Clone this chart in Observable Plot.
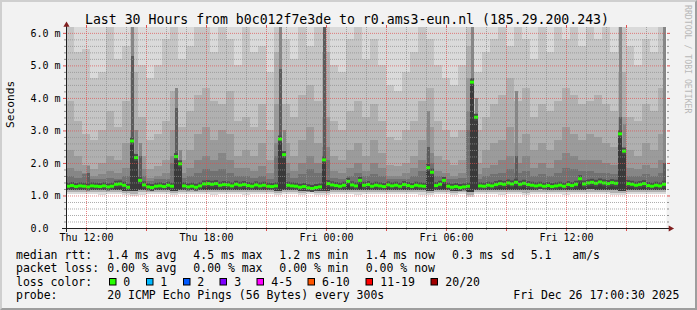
<!DOCTYPE html>
<html><head><meta charset="utf-8">
<script src="https://cdn.jsdelivr.net/npm/d3@7"></script>
<script src="https://cdn.jsdelivr.net/npm/@observablehq/plot@0.6"></script>
<style>
html,body{margin:0;padding:0;background:#f2f2f2;}
#wrap{position:relative;width:697px;height:310px;background:#f2f2f2;overflow:hidden;}
#wrap svg{position:absolute;left:0;top:0;}
#shade{position:absolute;left:0;top:0;width:697px;height:310px;box-sizing:border-box;border-style:solid;border-width:2px;border-color:#cfcfcf #9e9e9e #9e9e9e #cfcfcf;pointer-events:none;}
</style></head><body><div id="wrap"></div>
<script>
// ---------- data ----------
const titleText = "Last 30 Hours from b0c012f7e3de to r0.ams3-eun.nl (185.29.200.243)";
const yLabel = "Seconds";
const watermark = "RRDTOOL / TOBI OETIKER";
const yTickValues = [0, 1, 2, 3, 4, 5, 6];
const yTickLabels = ["0.0\u00a0\u00a0", "1.0 m", "2.0 m", "3.0 m", "4.0 m", "5.0 m", "6.0 m"];
const xTickMinutes = [60, 420, 780, 1140, 1500];
const xTickLabels = ["Thu 12:00", "Thu 18:00", "Fri 00:00", "Fri 06:00", "Fri 12:00"];

// median rtt in ms, one value per 12 minutes (150 values)
const median = [
  1.30,1.32,1.29,1.31,1.30,1.28,1.31,1.30,1.29,1.31,1.28,1.30,1.36,1.37,1.33,
  1.27,2.69,2.18,1.48,1.34,1.28,1.26,1.30,1.31,1.29,1.33,1.30,2.21,1.99,1.31,
  1.28,1.30,1.27,1.31,1.37,1.38,1.36,1.38,1.33,1.35,1.34,1.31,1.36,1.33,1.35,
  1.32,1.30,1.34,1.31,1.33,1.30,1.29,1.31,2.75,2.27,1.33,1.31,1.30,1.27,1.29,
  1.25,1.23,1.26,1.28,2.11,1.38,1.34,1.32,1.30,1.33,1.45,1.34,1.31,1.48,1.33,
  1.35,1.30,1.33,1.31,1.29,1.34,1.31,1.33,1.30,1.35,1.32,1.29,1.33,1.31,1.30,
  1.87,1.73,1.32,1.36,1.48,1.30,1.27,1.29,1.26,1.28,1.30,4.50,3.42,1.31,1.30,
  1.33,1.31,1.35,1.38,1.36,1.40,1.37,1.42,1.36,1.39,1.35,1.33,1.31,1.33,1.30,
  1.32,1.29,1.31,1.33,1.30,1.35,1.32,1.36,1.53,1.37,1.40,1.42,1.39,1.43,1.40,
  1.38,1.41,1.39,2.91,2.38,1.38,1.36,1.33,1.35,1.38,1.32,1.30,1.33,1.31,1.36
];

// smoke band edges in ms, one value per 24 minutes (75 values each)
const lo1 = [
  1.05,1.04,1.06,1.05,1.03,1.06,1.04,1.02,0.98,1.03,1.06,1.05,1.04,1.00,1.05,
  1.06,1.04,1.05,1.03,1.05,1.04,1.06,1.03,1.05,1.04,1.06,1.00,1.04,1.05,1.03,
  1.05,1.02,1.00,1.04,1.06,1.05,1.03,1.06,1.05,1.04,1.06,1.05,1.04,1.06,1.03,
  1.00,1.04,1.05,1.03,1.04,0.95,1.04,1.06,1.05,1.03,1.05,1.04,1.02,1.05,1.06,
  1.04,1.05,1.03,1.05,1.04,1.06,1.05,1.04,1.03,1.00,1.05,1.04,1.06,1.05,1.04
];
const lo2 = [
  1.11,1.10,1.12,1.11,1.10,1.12,1.11,1.09,1.06,1.10,1.12,1.11,1.10,1.07,1.11,
  1.12,1.10,1.11,1.10,1.11,1.10,1.12,1.10,1.11,1.10,1.12,1.07,1.10,1.11,1.09,
  1.11,1.09,1.07,1.10,1.12,1.11,1.10,1.12,1.11,1.10,1.12,1.11,1.10,1.12,1.10,
  1.07,1.10,1.11,1.09,1.10,1.03,1.10,1.12,1.11,1.10,1.11,1.10,1.09,1.11,1.12,
  1.10,1.11,1.10,1.11,1.10,1.12,1.11,1.10,1.09,1.07,1.11,1.10,1.12,1.11,1.10
];
const lo3 = [
  1.17,1.16,1.18,1.17,1.16,1.18,1.17,1.15,1.13,1.16,1.18,1.17,1.16,1.14,1.17,
  1.18,1.17,1.18,1.16,1.17,1.16,1.18,1.16,1.17,1.16,1.18,1.14,1.16,1.17,1.15,
  1.17,1.15,1.13,1.16,1.18,1.17,1.16,1.18,1.17,1.16,1.18,1.17,1.16,1.18,1.16,
  1.14,1.16,1.17,1.15,1.16,1.10,1.16,1.18,1.17,1.16,1.17,1.17,1.16,1.18,1.19,
  1.17,1.18,1.17,1.18,1.17,1.19,1.18,1.17,1.16,1.14,1.17,1.16,1.18,1.17,1.16
];
const u1 = [
  6.2,6.2,6.2,6.2,6.2,6.2,6.2,6.2,6.2,6.2,6.2,6.2,6.2,6.2,6.2,
  6.2,6.2,6.2,6.2,6.2,6.2,6.2,6.2,6.2,6.2,6.2,6.2,6.2,6.2,6.2,
  6.2,6.2,6.2,6.2,6.2,6.2,6.2,6.2,6.2,6.2,6.2,6.2,6.2,6.2,6.2,
  6.2,6.2,6.2,6.2,6.2,6.2,6.2,6.2,6.2,6.2,6.2,6.2,6.2,6.2,6.2,
  6.2,6.2,6.2,6.2,6.2,6.2,6.2,6.2,6.2,6.2,6.2,6.2,6.2,6.2,6.2
];
const u2 = [
  6.2,5.4,5.5,4.6,4.8,6.2,5.2,5.6,6.2,5.0,4.6,5.0,5.8,6.2,5.2,
  5.6,6.2,6.2,5.4,6.2,5.8,5.0,6.2,5.4,5.6,4.8,6.2,5.8,5.2,6.2,
  5.6,6.2,6.2,5.0,4.8,5.8,6.2,5.2,5.8,5.0,4.4,4.2,4.8,5.4,6.2,
  5.8,5.0,4.6,4.4,5.0,6.2,4.8,5.4,5.8,6.2,5.6,6.2,5.8,5.2,6.2,
  5.4,6.2,5.8,6.2,5.6,6.2,5.8,6.2,5.4,6.2,5.6,5.0,5.8,5.4,6.2
];
const u3 = [
  3.9,3.3,2.9,2.7,3.0,3.6,3.1,3.9,4.8,3.4,2.7,2.9,3.3,4.2,3.1,
  3.6,4.1,4.3,3.9,3.8,4.2,3.3,3.4,3.1,3.8,3.0,5.4,3.8,3.4,4.1,
  4.4,3.9,5.4,3.3,3.0,3.6,3.9,3.4,3.8,3.3,2.8,2.7,3.0,3.3,3.9,
  4.3,3.3,3.0,2.8,3.0,5.6,3.0,3.4,3.8,4.1,4.6,3.9,4.3,3.4,3.8,
  3.6,3.9,4.3,4.1,3.8,3.9,4.1,3.8,3.6,4.8,3.4,3.3,3.8,3.6,4.3
];
const u4 = [
  2.4,2.2,1.95,1.8,2.0,2.2,2.1,2.6,3.0,2.2,1.8,1.9,2.1,3.0,2.1,
  2.4,2.9,3.1,2.7,3.0,2.9,2.2,2.4,2.2,2.6,2.1,3.8,2.6,2.2,2.7,
  3.1,2.6,3.4,2.2,2.1,2.4,2.6,2.2,2.7,2.3,1.95,1.9,2.0,2.2,2.7,
  3.1,2.2,2.1,1.95,2.1,4.6,2.0,2.4,2.6,2.7,3.1,2.6,2.9,2.4,2.6,
  2.4,2.7,3.1,2.9,2.7,2.9,2.8,2.6,2.5,3.4,2.4,2.2,2.6,2.4,2.9
];
const u5 = [
  1.85,1.75,1.7,1.6,1.65,1.75,1.7,1.85,2.3,1.8,1.55,1.6,1.7,2.2,1.7,
  1.85,2.1,2.2,2.1,2.3,2.1,1.85,1.85,1.75,1.9,1.7,2.6,2.0,1.75,2.0,
  2.2,2.0,2.5,1.75,1.7,1.85,2.0,1.75,2.0,1.85,1.6,1.6,1.7,1.85,2.1,
  2.3,1.75,1.7,1.6,1.7,3.6,1.65,1.85,1.95,2.1,2.2,2.0,2.2,1.85,2.0,
  1.85,2.1,2.3,2.2,2.1,2.1,2.1,2.0,1.95,2.5,1.85,1.8,1.95,1.85,2.1
];
const u6 = [
  1.6,1.55,1.65,1.5,1.5,1.55,1.5,1.6,2.0,1.6,1.45,1.5,1.5,2.0,1.55,
  1.6,1.7,1.8,1.75,1.8,1.7,1.6,1.6,1.55,1.6,1.5,2.2,1.7,1.55,1.65,
  1.8,1.7,2.1,1.55,1.5,1.6,1.7,1.6,1.65,1.6,1.5,1.5,1.5,1.6,1.75,
  2.0,1.6,1.5,1.5,1.55,3.0,1.5,1.6,1.65,1.7,1.8,1.7,1.75,1.6,1.65,
  1.6,1.7,1.85,1.8,1.75,1.75,1.7,1.7,1.65,2.2,1.6,1.6,1.65,1.6,1.7
];
// narrow dark smoke streaks (12-minute slot index, tops in ms)
const streakSlot = [5, 16, 17, 18, 27, 28, 53, 54, 64, 90, 101, 102, 112, 138, 139, 149];
const streakMid  = [1.9, 6.2, 3.0, 2.6, 4.3, 2.4, 6.2, 3.0, 6.2, 3.6, 6.2, 4.0, 4.2, 6.2, 3.2, 6.2];
const streakDark = [1.7, 5.3, 2.2, 2.2, 3.7, 2.0, 4.9, 2.3, 6.2, 2.5, 4.6, 3.0, 2.2, 3.4, 2.4, 2.0];

// legend
const statRtt = ["median rtt:", "1.4 ms avg", "4.5 ms max", "1.2 ms min", "1.4 ms now", "0.3 ms sd", "5.1", "am/s"];
const statLoss = ["packet loss:", "0.00 % avg", "0.00 % max", "0.00 % min", "0.00 % now"];
const lossTitle = "loss color:";
const lossLabels = ["0", "1", "2", "3", "4-5", "6-10", "11-19", "20/20"];
const lossColors = ["#26ff00", "#00b8ff", "#0059ff", "#7e00ff", "#ff00ff", "#ff5500", "#ff0000", "#a10000"];
const probeRow = ["probe:", "20 ICMP Echo Pings (56 Bytes) every 300s", "Fri Dec 26 17:00:30 2025"];

// ---------- build ----------
const START = Date.UTC(2025, 11, 25, 11, 0, 0);
const T = m => new Date(START + m * 60000);

const smokeRows = lo1.map((_, j) => ({x1: T(24 * j), x2: T(24 * j + 24),
  lo1: lo1[j], lo2: lo2[j], lo3: lo3[j], u1: u1[j], u2: u2[j], u3: u3[j], u4: u4[j], u5: u5[j], u6: u6[j]}));
const medRows = median.map((v, i) => ({x1: T(12 * i), x2: T(12 * i + 12), med: v, lo: lo3[Math.floor(i / 2)]}));
const streakRows = streakSlot.map((s, k) => ({x1: T(12 * s), x2: T(12 * s + 12), lo: lo3[Math.floor(s / 2)], mid: streakMid[k], dark: streakDark[k]}));

const hourIdx = d3.range(1, 30);
const majorX = hourIdx.filter(h => h % 3 === 1).map(h => T(60 * h));
const minorX = hourIdx.filter(h => h % 3 !== 1).map(h => T(60 * h));
const majorY = [1, 2, 3, 4, 5, 6];
const minorY = d3.range(1, 31).filter(k => k % 5 !== 0).map(k => k / 5);
const xLabelDates = xTickMinutes.map(m => T(m));

const crisp = {shapeRendering: "crispEdges", clip: true};
const band = (y1, y2, fill) => Plot.rect(smokeRows, {x1: "x1", x2: "x2", y1, y2, fill, ...crisp});
const GRID = "#8f8f8f", MGRID = "#de4f4f";

const chart = Plot.plot({
  width: 697, height: 310,
  marginLeft: 66, marginRight: 31, marginTop: 27, marginBottom: 82,
  style: {background: "none", fontFamily: "'DejaVu Sans Mono', monospace", fontSize: "10px", color: "#000"},
  x: {type: "utc", domain: [T(0), T(1800)], axis: null},
  y: {domain: [0, 6.18], axis: null},
  marks: [
    Plot.frame({fill: "white", stroke: null}),
    band("lo1", "u1", "#dadada"),
    band("lo2", "u2", "#c5c5c5"),
    band("lo2", "u3", "#b0b0b0"),
    band("lo3", "u4", "#9b9b9b"),
    band("lo3", "u5", "#868686"),
    band("lo3", "u6", "#717171"),
    Plot.rect(streakRows, {x1: "x1", x2: "x2", y1: "lo", y2: "mid", fill: "#868686", insetLeft: 1, ...crisp}),
    Plot.rect(streakRows, {x1: "x1", x2: "x2", y1: "lo", y2: "dark", fill: "#5c5c5c", insetLeft: 1, ...crisp}),
    Plot.rect(medRows, {x1: "x1", x2: "x2", y1: "lo", y2: "med", fill: "#3a3a3a", ...crisp}),
    Plot.ruleY(medRows, {x1: "x1", x2: "x2", y: "med", stroke: "#4a4a4a", strokeWidth: 7, clip: true}),
    Plot.ruleY(medRows, {x1: "x1", x2: "x2", y: "med", stroke: "#26ff00", strokeWidth: 3, clip: true}),
    // grid (dotted, drawn above the smoke as rrdtool does)
    Plot.ruleX(minorX, {stroke: GRID, strokeOpacity: 0.75, strokeDasharray: "1,1"}),
    Plot.ruleY(minorY, {stroke: GRID, strokeOpacity: 0.75, strokeDasharray: "1,1"}),
    Plot.ruleX(majorX, {stroke: MGRID, strokeOpacity: 0.7, strokeDasharray: "1,1"}),
    Plot.ruleY(majorY, {stroke: MGRID, strokeOpacity: 0.7, strokeDasharray: "1,1"}),
    // ticks
    Plot.axisY(minorY, {anchor: "left", tickSize: 2, stroke: GRID, tickFormat: () => ""}),
    Plot.axisY(minorY, {anchor: "right", tickSize: 2, stroke: GRID, tickFormat: () => ""}),
    Plot.axisY(majorY, {anchor: "left", tickSize: 3, stroke: MGRID, tickFormat: () => ""}),
    Plot.axisY(majorY, {anchor: "right", tickSize: 3, stroke: MGRID, tickFormat: () => ""}),
    Plot.axisX(majorX, {anchor: "bottom", tickSize: 3, stroke: MGRID, tickFormat: () => ""}),
    Plot.axisX(majorX, {anchor: "top", tickSize: 3, stroke: MGRID, tickFormat: () => ""}),
    Plot.axisX(minorX, {anchor: "bottom", tickSize: 2, stroke: GRID, tickFormat: () => ""}),
    // axis lines and arrows
    Plot.ruleX([T(0)], {stroke: "#1f1f1f", insetTop: -1, insetBottom: -4}),
    Plot.ruleY([0], {stroke: "#1f1f1f", insetLeft: -4, insetRight: -3}),
    Plot.dot([0], {x: () => T(1800), y: () => 0, symbol: "triangle", r: 2.3, fill: "#801f1f", stroke: null, rotate: 90, dx: 4}),
    Plot.dot([0], {x: () => T(0), y: () => 6.18, symbol: "triangle", r: 2.3, fill: "#801f1f", stroke: null, dy: -2.5}),
    // labels
    Plot.axisY(yTickValues, {anchor: "left", tickSize: 0, tickPadding: 6, fontSize: 10,
      tickFormat: d => yTickLabels[yTickValues.indexOf(d)]}),
    Plot.axisX(xLabelDates, {anchor: "bottom", tickSize: 0, tickPadding: 5.5, fontSize: 10,
      tickFormat: d => xTickLabels[xLabelDates.findIndex(t => +t === +d)]}),
    Plot.text([yLabel], {frameAnchor: "left", rotate: -90, dx: -56, fontSize: 11.2, fill: "#000"})
  ]
});

const wrap = document.getElementById("wrap");
wrap.appendChild(chart);

// title, legend, watermark
const ov = d3.select(wrap).append("svg").attr("width", 697).attr("height", 310)
  .style("font-family", "'DejaVu Sans Mono', monospace").style("pointer-events", "none");
ov.append("text").attr("x", 347).attr("y", 24).attr("text-anchor", "middle").attr("font-size", 13.2).text(titleText);
ov.append("text").attr("transform", "translate(684.5,5) rotate(90)").attr("font-size", 8.2).attr("fill", "#b8b8b8").text(watermark);

const FS = 11.5;
const rowY = [258.5, 272, 285.8, 299.3];
const rttX = [16, 107.3, 193.3, 279.3, 365.7, 452, 530.7, 572.3];
statRtt.forEach((s, i) => ov.append("text").attr("x", rttX[i]).attr("y", rowY[0]).attr("font-size", FS).text(s));
statLoss.forEach((s, i) => ov.append("text").attr("x", rttX[i]).attr("y", rowY[1]).attr("font-size", FS).text(s));
ov.append("text").attr("x", 16).attr("y", rowY[2]).attr("font-size", FS).text(lossTitle);
const sqX = [109, 146, 183, 219.5, 256.5, 307.5, 365.5, 430.5];
const lblX = [123.3, 160.3, 197.3, 234.3, 271.3, 322, 380.3, 445.3];
lossLabels.forEach((l, i) => {
  ov.append("rect").attr("x", sqX[i] + 0.5).attr("y", 278.5).attr("width", 6.5).attr("height", 6.5)
    .attr("fill", lossColors[i]).attr("stroke", "#000").attr("stroke-width", 1);
  ov.append("text").attr("x", lblX[i]).attr("y", rowY[2]).attr("font-size", FS).text(l);
});
const probeX = [16, 107.3, 513.3];
probeRow.forEach((s, i) => ov.append("text").attr("x", probeX[i]).attr("y", rowY[3]).attr("font-size", FS).text(s));

d3.select(wrap).append("div").attr("id", "shade");
</script></body></html>
